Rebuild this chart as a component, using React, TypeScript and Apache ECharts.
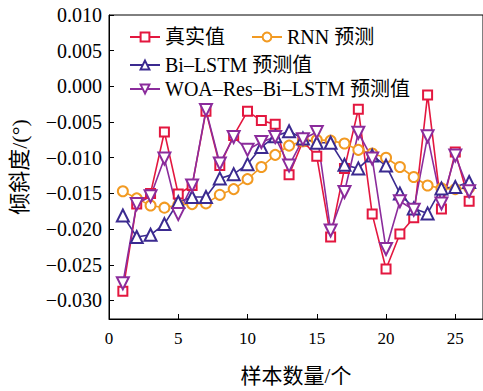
import React, { useEffect, useRef } from "react";
import * as echarts from "echarts";

const samples = [1, 2, 3, 4, 5, 6, 7, 8, 9, 10, 11, 12, 13, 14, 15, 16, 17, 18, 19, 20, 21, 22, 23, 24, 25, 26];
const realValues = [-0.0287, -0.0165, -0.0150, -0.0064, -0.0151, -0.0139, -0.0035, -0.0111, -0.0069, -0.0035, -0.0048, -0.0053, -0.0124, -0.0077, -0.0098, -0.0211, -0.0115, -0.0032, -0.0179, -0.0256, -0.0207, -0.0184, -0.0012, -0.0172, -0.0092, -0.0161];
const rnnValues = [-0.0147, -0.0157, -0.0167, -0.0170, -0.0166, -0.0165, -0.0164, -0.0152, -0.0144, -0.0130, -0.0113, -0.0096, -0.0083, -0.0077, -0.0075, -0.0076, -0.0080, -0.0089, -0.0094, -0.0100, -0.0113, -0.0127, -0.0139, -0.0143, -0.0144, -0.0142];
const biLstmValues = [-0.0181, -0.0211, -0.0208, -0.0193, -0.0162, -0.0155, -0.0155, -0.0129, -0.0123, -0.0109, -0.0085, -0.0070, -0.0063, -0.0073, -0.0079, -0.0079, -0.0110, -0.0115, -0.0097, -0.0111, -0.0150, -0.0171, -0.0178, -0.0143, -0.0141, -0.0134];
const woaValues = [-0.0276, -0.0165, -0.0154, -0.0101, -0.0179, -0.0139, -0.0033, -0.0108, -0.0071, -0.0089, -0.0078, -0.0071, -0.0111, -0.0074, -0.0064, -0.0202, -0.0148, -0.0065, -0.0101, -0.0228, -0.0161, -0.0173, -0.0070, -0.0164, -0.0097, -0.0147];

const seriesNames = ["真实值", "RNN 预测", "Bi–LSTM 预测值", "WOA–Res–Bi–LSTM 预测值"];
const xAxisName = "样本数量/个";
const yAxisName = "倾斜度/(°)";

const FONT = "Liberation Serif, Noto Sans CJK SC";

export default function App() {
  const ref = useRef<HTMLDivElement>(null);
  useEffect(() => {
    if (!ref.current) return;
    const chart = echarts.init(ref.current, undefined, { renderer: "svg" });
    const pairs = (vals: number[]) => samples.map((x, i) => [x, vals[i]]);
    const mk = (name: string, vals: number[], color: string, symbol: string, size: number, rotate = 0) => ({
      name,
      type: "line",
      data: pairs(vals),
      symbol,
      symbolSize: size,
      symbolRotate: rotate,
      lineStyle: { color, width: 1.6 },
      itemStyle: { color, borderWidth: 1.6 },
    });
    const legendBase = {
      orient: "horizontal",
      itemWidth: 30,
      itemHeight: 11,
      itemGap: 26,
      selectedMode: false,
      textStyle: { fontFamily: FONT, fontSize: 20, color: "#000" },
    };
    chart.setOption({
      animation: false,
      backgroundColor: "#fff",
      grid: { left: 104.5, right: -2.2, top: 15, bottom: 69, show: true, borderColor: "#000", borderWidth: 1 },
      legend: [
        { ...legendBase, left: 124, top: 22, data: [seriesNames[0], seriesNames[1]] },
        { ...legendBase, left: 124, top: 50, data: [seriesNames[2]] },
        { ...legendBase, left: 124, top: 74, data: [seriesNames[3]] },
      ],
      xAxis: {
        type: "value",
        min: 0,
        max: 27,
        interval: 5,
        name: xAxisName,
        nameLocation: "middle",
        nameGap: 46,
        nameTextStyle: { fontFamily: FONT, fontSize: 21, color: "#000" },
        axisLine: { onZero: false, lineStyle: { color: "#000", width: 1 } },
        axisTick: { inside: true, length: 5, lineStyle: { color: "#000" } },
        axisLabel: { fontFamily: FONT, fontSize: 17, color: "#000", margin: 11, showMaxLabel: false },
        splitLine: { show: false },
      },
      yAxis: {
        type: "value",
        min: -0.0326,
        max: 0.01,
        splitNumber: 8,
        name: yAxisName,
        nameLocation: "middle",
        nameGap: 79,
        nameTextStyle: { fontFamily: FONT, fontSize: 22, color: "#000" },
        axisLine: { show: true, onZero: false, lineStyle: { color: "#000", width: 1 } },
        axisTick: { inside: true, length: 5, lineStyle: { color: "#000" } },
        axisLabel: {
          fontFamily: FONT,
          fontSize: 20,
          color: "#000",
          margin: 7,
          showMinLabel: false,
          formatter: (v: number) => v.toFixed(3).replace("-", "−"),
        },
        splitLine: { show: false },
      },
      series: [
        mk(seriesNames[0], realValues, "#e3173f", "emptyRect", 9),
        mk(seriesNames[1], rnnValues, "#f29a22", "emptyCircle", 10),
        mk(seriesNames[2], biLstmValues, "#3b2a90", "emptyTriangle", 12),
        mk(seriesNames[3], woaValues, "#8b2c9c", "emptyTriangle", 12, 180),
      ],
    });
    return () => chart.dispose();
  }, []);
  return <div ref={ref} style={{ position: "fixed", left: 0, top: 0, width: 483, height: 391 }} />;
}
